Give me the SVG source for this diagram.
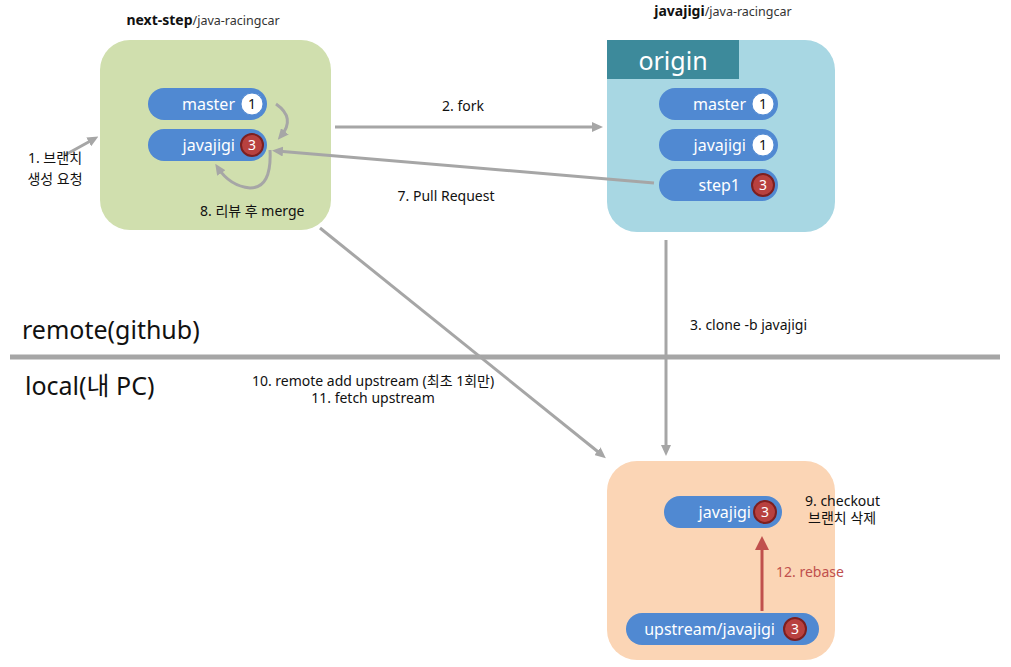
<svg xmlns="http://www.w3.org/2000/svg" width="1011" height="667" viewBox="0 0 1011 667">
<style>
text{font-family:"Noto Sans","Noto Sans CJK KR",sans-serif;fill:#111}
.pill{fill:#5089d2}
.pt{fill:#fff;font-size:16px;text-anchor:end}
.bw{fill:#fff;stroke:#5089d2;stroke-width:1}
.br{fill:#b8413f;stroke:#7d1f1f;stroke-width:2}
.bt{font-size:14px;text-anchor:middle}
.lbl{font-size:14px}
.con{fill:none;stroke:#a6a6a6;stroke-width:3}
</style>
<defs>
<marker id="ag" markerWidth="11" markerHeight="10" refX="6" refY="5" orient="auto" markerUnits="userSpaceOnUse"><path d="M0,0 L11,5 L0,10 Z" fill="#a6a6a6"/></marker>
<marker id="ar" markerWidth="14" markerHeight="14" refX="8" refY="7" orient="auto" markerUnits="userSpaceOnUse"><path d="M0,0 L14,7 L0,14 Z" fill="#c0504d"/></marker>
</defs>
<rect width="1011" height="667" fill="#fff"/>

<g id="sep">
<line x1="10" y1="357" x2="1000" y2="357" stroke="#a6a6a6" stroke-width="5"/>
<text x="22" y="339" style="font-size:25px">remote(github)</text>
<text x="25" y="395" style="font-size:25px">local(내 PC)</text>
</g>

<g id="nextstep">
<text x="203" y="25" text-anchor="middle" style="font-size:14px"><tspan font-weight="bold">next-step</tspan><tspan style="font-size:12.5px" fill="#333">/java-racingcar</tspan></text>
<rect x="100" y="40" width="231" height="190" rx="30" fill="#d0dfae"/>
<rect class="pill" x="148" y="88" width="119" height="32" rx="16"/>
<text class="pt" x="235" y="110">master</text>
<circle class="bw" cx="252" cy="104" r="11"/>
<text class="bt" x="252" y="109">1</text>
<rect class="pill" x="148" y="129" width="119" height="32" rx="16"/>
<text class="pt" x="235" y="151">javajigi</text>
<circle class="br" cx="252" cy="145" r="11"/>
<text class="bt" x="252" y="150" style="fill:#fff">3</text>
<text class="lbl" x="200" y="216">8. 리뷰 후 merge</text>
</g>

<g id="origin">
<text x="723" y="16" text-anchor="middle" style="font-size:14px"><tspan font-weight="bold">javajigi</tspan><tspan style="font-size:12.5px" fill="#333">/java-racingcar</tspan></text>
<rect x="607" y="40" width="228" height="192" rx="30" fill="#a8d7e3"/>
<rect x="607" y="40" width="132" height="39" fill="#3d8a9b"/>
<text x="673" y="70" text-anchor="middle" style="font-size:25px;fill:#fff">origin</text>
<rect class="pill" x="659" y="88" width="119" height="32" rx="16"/>
<text class="pt" x="746" y="110">master</text>
<circle class="bw" cx="763" cy="104" r="11"/>
<text class="bt" x="763" y="109">1</text>
<rect class="pill" x="659" y="129" width="119" height="32" rx="16"/>
<text class="pt" x="746" y="151">javajigi</text>
<circle class="bw" cx="763" cy="145" r="11"/>
<text class="bt" x="763" y="150">1</text>
<rect class="pill" x="659" y="169" width="119" height="32" rx="16"/>
<text class="pt" x="740" y="191">step1</text>
<circle class="br" cx="763" cy="185" r="11"/>
<text class="bt" x="763" y="190" style="fill:#fff">3</text>
</g>

<g id="local">
<rect x="607" y="461" width="228" height="199" rx="30" fill="#fbd5b5"/>
<rect class="pill" x="664" y="496" width="118" height="32" rx="16"/>
<text class="pt" x="751" y="518">javajigi</text>
<circle class="br" cx="765" cy="512" r="11"/>
<text class="bt" x="765" y="517" style="fill:#fff">3</text>
<rect class="pill" x="626" y="613" width="193" height="32" rx="16"/>
<text class="pt" x="775" y="635">upstream/javajigi</text>
<circle class="br" cx="795" cy="629" r="11"/>
<text class="bt" x="795" y="634" style="fill:#fff">3</text>
<text class="lbl" x="805" y="506">9. checkout</text>
<text class="lbl" x="808" y="523">브랜치 삭제</text>
</g>

<g id="connectors">
<line class="con" x1="65" y1="155" x2="94" y2="139" marker-end="url(#ag)"/>
<text class="lbl" x="55" y="163" text-anchor="middle">1. 브랜치</text>
<text class="lbl" x="55" y="184" text-anchor="middle">생성 요청</text>
<path class="con" d="M276,104 Q296,118 281,136" marker-end="url(#ag)"/>
<path class="con" d="M270,150 Q272,188 250,188 Q230,186 218,168" marker-end="url(#ag)"/>
<line class="con" x1="335" y1="127" x2="598" y2="127" marker-end="url(#ag)"/>
<text class="lbl" x="463" y="111" text-anchor="middle">2. fork</text>
<line class="con" x1="654" y1="183" x2="277" y2="151" marker-end="url(#ag)"/>
<text class="lbl" x="446" y="201" text-anchor="middle">7. Pull Request</text>
<line class="con" x1="320" y1="228" x2="602" y2="455" marker-end="url(#ag)"/>
<text class="lbl" x="373" y="386" text-anchor="middle">10. remote add upstream (최초 1회만)</text>
<text class="lbl" x="373" y="403" text-anchor="middle">11. fetch upstream</text>
<line class="con" x1="666" y1="240" x2="666" y2="451" marker-end="url(#ag)"/>
<text class="lbl" x="690" y="330">3. clone -b javajigi</text>
<line x1="762" y1="611" x2="762" y2="542" stroke="#c0504d" stroke-width="3" marker-end="url(#ar)"/>
<text class="lbl" x="776" y="577" style="fill:#c0504d">12. rebase</text>
</g>
</svg>
